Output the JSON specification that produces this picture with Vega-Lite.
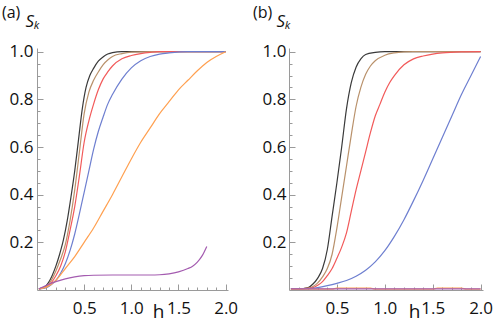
{
  "$schema": "https://vega.github.io/schema/vega-lite/v6.json",
  "background": "white",
  "padding": {"left": 2, "top": 5, "right": 0, "bottom": 0},
  "autosize": {"type": "pad"},
  "spacing": 61,
  "bounds": "flush",
  "config": {
    "view": {"stroke": null},
    "axis": {
      "grid": false,
      "domainColor": "#9a9a9a",
      "tickColor": "#9a9a9a",
      "domainWidth": 1,
      "tickWidth": 1,
      "labelFont": "Open Sans",
      "labelFontSize": 17,
      "labelColor": "#111",
      "labelOverlap": false,
      "labelFlush": false,
      "titleFont": "Open Sans",
      "titleFontWeight": "normal",
      "titleColor": "#111"
    },
    "title": {"font": "Open Sans", "fontSize": 16, "fontWeight": "normal", "color": "#111"}
  },
  "datasets": {
    "a": [
      {"c":"c1","h":0.02,"S":0.005},{"c":"c1","h":0.08,"S":0.012},{"c":"c1","h":0.12,"S":0.03},{"c":"c1","h":0.16,"S":0.06},{"c":"c1","h":0.2,"S":0.1},{"c":"c1","h":0.24,"S":0.15},{"c":"c1","h":0.28,"S":0.21},{"c":"c1","h":0.32,"S":0.29},{"c":"c1","h":0.36,"S":0.39},{"c":"c1","h":0.4,"S":0.5},{"c":"c1","h":0.44,"S":0.63},{"c":"c1","h":0.48,"S":0.76},{"c":"c1","h":0.52,"S":0.85},{"c":"c1","h":0.56,"S":0.9},{"c":"c1","h":0.6,"S":0.93},{"c":"c1","h":0.65,"S":0.96},{"c":"c1","h":0.7,"S":0.978},{"c":"c1","h":0.75,"S":0.99},{"c":"c1","h":0.8,"S":0.996},{"c":"c1","h":0.9,"S":1.0},{"c":"c1","h":1.2,"S":1.0},{"c":"c1","h":1.6,"S":1.0},{"c":"c1","h":2.0,"S":1.0},
      {"c":"c2","h":0.02,"S":0.005},{"c":"c2","h":0.1,"S":0.015},{"c":"c2","h":0.15,"S":0.04},{"c":"c2","h":0.2,"S":0.08},{"c":"c2","h":0.25,"S":0.13},{"c":"c2","h":0.3,"S":0.19},{"c":"c2","h":0.35,"S":0.29},{"c":"c2","h":0.4,"S":0.42},{"c":"c2","h":0.45,"S":0.58},{"c":"c2","h":0.5,"S":0.74},{"c":"c2","h":0.55,"S":0.83},{"c":"c2","h":0.6,"S":0.88},{"c":"c2","h":0.65,"S":0.915},{"c":"c2","h":0.7,"S":0.945},{"c":"c2","h":0.75,"S":0.965},{"c":"c2","h":0.8,"S":0.98},{"c":"c2","h":0.9,"S":0.992},{"c":"c2","h":1.0,"S":0.998},{"c":"c2","h":1.2,"S":1.0},{"c":"c2","h":1.6,"S":1.0},{"c":"c2","h":2.0,"S":1.0},
      {"c":"c3","h":0.02,"S":0.005},{"c":"c3","h":0.1,"S":0.012},{"c":"c3","h":0.15,"S":0.03},{"c":"c3","h":0.2,"S":0.06},{"c":"c3","h":0.25,"S":0.1},{"c":"c3","h":0.3,"S":0.16},{"c":"c3","h":0.35,"S":0.25},{"c":"c3","h":0.4,"S":0.35},{"c":"c3","h":0.45,"S":0.48},{"c":"c3","h":0.5,"S":0.62},{"c":"c3","h":0.55,"S":0.71},{"c":"c3","h":0.6,"S":0.78},{"c":"c3","h":0.65,"S":0.84},{"c":"c3","h":0.7,"S":0.885},{"c":"c3","h":0.75,"S":0.915},{"c":"c3","h":0.8,"S":0.94},{"c":"c3","h":0.9,"S":0.97},{"c":"c3","h":1.0,"S":0.984},{"c":"c3","h":1.1,"S":0.992},{"c":"c3","h":1.2,"S":0.997},{"c":"c3","h":1.3,"S":1.0},{"c":"c3","h":2.0,"S":1.0},
      {"c":"c4","h":0.02,"S":0.005},{"c":"c4","h":0.1,"S":0.01},{"c":"c4","h":0.15,"S":0.022},{"c":"c4","h":0.2,"S":0.04},{"c":"c4","h":0.25,"S":0.07},{"c":"c4","h":0.3,"S":0.11},{"c":"c4","h":0.35,"S":0.165},{"c":"c4","h":0.4,"S":0.235},{"c":"c4","h":0.45,"S":0.32},{"c":"c4","h":0.5,"S":0.41},{"c":"c4","h":0.55,"S":0.5},{"c":"c4","h":0.6,"S":0.59},{"c":"c4","h":0.65,"S":0.665},{"c":"c4","h":0.7,"S":0.725},{"c":"c4","h":0.75,"S":0.78},{"c":"c4","h":0.8,"S":0.82},{"c":"c4","h":0.9,"S":0.885},{"c":"c4","h":1.0,"S":0.932},{"c":"c4","h":1.1,"S":0.962},{"c":"c4","h":1.2,"S":0.98},{"c":"c4","h":1.3,"S":0.99},{"c":"c4","h":1.4,"S":0.995},{"c":"c4","h":1.6,"S":1.0},{"c":"c4","h":2.0,"S":1.0},
      {"c":"c5","h":0.02,"S":0.005},{"c":"c5","h":0.1,"S":0.012},{"c":"c5","h":0.2,"S":0.04},{"c":"c5","h":0.3,"S":0.09},{"c":"c5","h":0.4,"S":0.14},{"c":"c5","h":0.5,"S":0.2},{"c":"c5","h":0.6,"S":0.26},{"c":"c5","h":0.7,"S":0.33},{"c":"c5","h":0.8,"S":0.4},{"c":"c5","h":0.9,"S":0.475},{"c":"c5","h":1.0,"S":0.55},{"c":"c5","h":1.1,"S":0.62},{"c":"c5","h":1.2,"S":0.68},{"c":"c5","h":1.3,"S":0.74},{"c":"c5","h":1.4,"S":0.79},{"c":"c5","h":1.5,"S":0.84},{"c":"c5","h":1.6,"S":0.88},{"c":"c5","h":1.7,"S":0.92},{"c":"c5","h":1.8,"S":0.955},{"c":"c5","h":1.9,"S":0.98},{"c":"c5","h":2.0,"S":1.0},
      {"c":"c6","h":0.02,"S":0.005},{"c":"c6","h":0.1,"S":0.02},{"c":"c6","h":0.2,"S":0.035},{"c":"c6","h":0.3,"S":0.047},{"c":"c6","h":0.4,"S":0.055},{"c":"c6","h":0.5,"S":0.06},{"c":"c6","h":0.6,"S":0.062},{"c":"c6","h":0.8,"S":0.063},{"c":"c6","h":1.0,"S":0.063},{"c":"c6","h":1.2,"S":0.063},{"c":"c6","h":1.3,"S":0.064},{"c":"c6","h":1.4,"S":0.068},{"c":"c6","h":1.5,"S":0.076},{"c":"c6","h":1.6,"S":0.09},{"c":"c6","h":1.65,"S":0.1},{"c":"c6","h":1.7,"S":0.117},{"c":"c6","h":1.75,"S":0.143},{"c":"c6","h":1.8,"S":0.183}
    ],
    "b": [
      {"c":"c1","h":0.02,"S":0.005},{"c":"c1","h":0.1,"S":0.005},{"c":"c1","h":0.2,"S":0.01},{"c":"c1","h":0.25,"S":0.025},{"c":"c1","h":0.3,"S":0.05},{"c":"c1","h":0.35,"S":0.09},{"c":"c1","h":0.4,"S":0.17},{"c":"c1","h":0.45,"S":0.31},{"c":"c1","h":0.5,"S":0.45},{"c":"c1","h":0.55,"S":0.6},{"c":"c1","h":0.6,"S":0.76},{"c":"c1","h":0.65,"S":0.87},{"c":"c1","h":0.7,"S":0.935},{"c":"c1","h":0.75,"S":0.97},{"c":"c1","h":0.8,"S":0.988},{"c":"c1","h":0.9,"S":0.997},{"c":"c1","h":1.0,"S":1.0},{"c":"c1","h":1.5,"S":1.0},{"c":"c1","h":2.0,"S":1.0},
      {"c":"c2","h":0.02,"S":0.005},{"c":"c2","h":0.1,"S":0.005},{"c":"c2","h":0.2,"S":0.008},{"c":"c2","h":0.25,"S":0.015},{"c":"c2","h":0.3,"S":0.03},{"c":"c2","h":0.35,"S":0.055},{"c":"c2","h":0.4,"S":0.09},{"c":"c2","h":0.45,"S":0.15},{"c":"c2","h":0.5,"S":0.26},{"c":"c2","h":0.55,"S":0.39},{"c":"c2","h":0.6,"S":0.52},{"c":"c2","h":0.65,"S":0.65},{"c":"c2","h":0.7,"S":0.77},{"c":"c2","h":0.75,"S":0.85},{"c":"c2","h":0.8,"S":0.905},{"c":"c2","h":0.85,"S":0.94},{"c":"c2","h":0.9,"S":0.962},{"c":"c2","h":1.0,"S":0.985},{"c":"c2","h":1.1,"S":0.995},{"c":"c2","h":1.2,"S":0.999},{"c":"c2","h":1.3,"S":1.0},{"c":"c2","h":2.0,"S":1.0},
      {"c":"c3","h":0.02,"S":0.005},{"c":"c3","h":0.1,"S":0.005},{"c":"c3","h":0.2,"S":0.007},{"c":"c3","h":0.25,"S":0.01},{"c":"c3","h":0.3,"S":0.02},{"c":"c3","h":0.35,"S":0.035},{"c":"c3","h":0.4,"S":0.06},{"c":"c3","h":0.45,"S":0.09},{"c":"c3","h":0.5,"S":0.133},{"c":"c3","h":0.55,"S":0.18},{"c":"c3","h":0.6,"S":0.24},{"c":"c3","h":0.65,"S":0.33},{"c":"c3","h":0.7,"S":0.42},{"c":"c3","h":0.75,"S":0.5},{"c":"c3","h":0.8,"S":0.58},{"c":"c3","h":0.85,"S":0.66},{"c":"c3","h":0.9,"S":0.73},{"c":"c3","h":0.95,"S":0.78},{"c":"c3","h":1.0,"S":0.83},{"c":"c3","h":1.05,"S":0.87},{"c":"c3","h":1.1,"S":0.9},{"c":"c3","h":1.2,"S":0.945},{"c":"c3","h":1.3,"S":0.97},{"c":"c3","h":1.4,"S":0.982},{"c":"c3","h":1.5,"S":0.99},{"c":"c3","h":1.6,"S":0.995},{"c":"c3","h":1.8,"S":0.999},{"c":"c3","h":2.0,"S":1.0},
      {"c":"c4","h":0.02,"S":0.005},{"c":"c4","h":0.2,"S":0.006},{"c":"c4","h":0.3,"S":0.01},{"c":"c4","h":0.4,"S":0.018},{"c":"c4","h":0.5,"S":0.028},{"c":"c4","h":0.6,"S":0.04},{"c":"c4","h":0.7,"S":0.058},{"c":"c4","h":0.8,"S":0.083},{"c":"c4","h":0.9,"S":0.118},{"c":"c4","h":1.0,"S":0.165},{"c":"c4","h":1.1,"S":0.225},{"c":"c4","h":1.2,"S":0.295},{"c":"c4","h":1.3,"S":0.375},{"c":"c4","h":1.4,"S":0.46},{"c":"c4","h":1.5,"S":0.55},{"c":"c4","h":1.6,"S":0.64},{"c":"c4","h":1.7,"S":0.73},{"c":"c4","h":1.8,"S":0.82},{"c":"c4","h":1.9,"S":0.9},{"c":"c4","h":2.0,"S":0.98},
      {"c":"c5","h":0.02,"S":0.004},{"c":"c5","h":0.45,"S":0.004},{"c":"c5","h":0.5,"S":0.008},{"c":"c5","h":0.85,"S":0.008},{"c":"c5","h":0.9,"S":0.004},{"c":"c5","h":1.5,"S":0.004},{"c":"c5","h":1.55,"S":0.008},{"c":"c5","h":1.8,"S":0.008},{"c":"c5","h":1.85,"S":0.004},{"c":"c5","h":2.0,"S":0.004},
      {"c":"c6","h":0.02,"S":0.005},{"c":"c6","h":1.0,"S":0.005},{"c":"c6","h":2.0,"S":0.005}
    ]
  },
  "hconcat": [
    {
      "width": 191,
      "height": 242,
      "title": {"text": "(a)", "anchor": "start", "frame": "group", "dx": -35, "dy": 13},
      "resolve": {"axis": {"x": "independent", "y": "independent"}},
      "layer": [
        {
          "data": {"name": "a"},
          "mark": {"type": "line", "strokeWidth": 1.2, "interpolate": "monotone"},
          "encoding": {
            "x": {"field": "h", "type": "quantitative", "scale": {"domain": [0, 2.025], "nice": false, "zero": false},
              "axis": {
                "orient": "bottom",
                "values": [0.5, 1.0, 1.5, 2.0],
                "format": ".1f",
                "tickSize": -6,
                "labelPadding": 16,
                "labelDx": 6,
                "title": "h",
                "titleFontSize": 19,
                "titleX": 121,
                "titleY": 27,
                "titleBaseline": "alphabetic",
                "titleAlign": "center"
              }
            },
            "y": {"field": "S", "type": "quantitative", "scale": {"domain": [0, 1.0155], "nice": false},
              "axis": {
                "orient": "left",
                "values": [0.2, 0.4, 0.6, 0.8, 1.0],
                "format": ".1f",
                "tickSize": -6,
                "labelPadding": 10,
                "title": "Sₖ",
                "titleAngle": 0,
                "titleFontSize": 17,
                "titleFontStyle": "italic",
                "titleX": -12,
                "titleY": -22,
                "titleAlign": "left",
                "titleBaseline": "alphabetic"
              }
            },
            "color": {"field": "c", "type": "nominal", "legend": null,
              "scale": {"domain": ["c1","c2","c3","c4","c5","c6"], "range": ["#3a3a3a","#b9916b","#f25a5a","#6e7fd0","#ffa050","#a45cb0"]}}
          }
        },
        {
          "mark": {"type": "rule", "strokeDash": [2, 2], "color": "#777", "strokeWidth": 1},
          "encoding": {
            "x": {"datum": 0.5, "type": "quantitative",
              "axis": {"orient": "bottom", "values": [0.1,0.2,0.3,0.4,0.6,0.7,0.8,0.9,1.1,1.2,1.3,1.4,1.6,1.7,1.8,1.9], "labels": false, "domain": false, "tickSize": -3, "title": null}},
            "y": {"datum": 0, "type": "quantitative",
              "axis": {"orient": "left", "values": [0.05,0.1,0.15,0.25,0.3,0.35,0.45,0.5,0.55,0.65,0.7,0.75,0.85,0.9,0.95], "labels": false, "domain": false, "tickSize": -3, "title": null}},
            "y2": {"datum": 1.075}
          }
        }
      ]
    },
    {
      "width": 194,
      "height": 242,
      "title": {"text": "(b)", "anchor": "start", "frame": "group", "dx": -36, "dy": 13},
      "resolve": {"axis": {"x": "independent", "y": "independent"}},
      "layer": [
        {
          "data": {"name": "b"},
          "mark": {"type": "line", "strokeWidth": 1.2, "interpolate": "monotone"},
          "encoding": {
            "x": {"field": "h", "type": "quantitative", "scale": {"domain": [0, 2.025], "nice": false, "zero": false},
              "axis": {
                "orient": "bottom",
                "values": [0.5, 1.0, 1.5, 2.0],
                "format": ".1f",
                "tickSize": -6,
                "labelPadding": 16,
                "labelDx": 6,
                "title": "h",
                "titleFontSize": 19,
                "titleX": 125,
                "titleY": 27,
                "titleBaseline": "alphabetic",
                "titleAlign": "center"
              }
            },
            "y": {"field": "S", "type": "quantitative", "scale": {"domain": [0, 1.0155], "nice": false},
              "axis": {
                "orient": "left",
                "values": [0.2, 0.4, 0.6, 0.8, 1.0],
                "format": ".1f",
                "tickSize": -6,
                "labelPadding": 9,
                "title": "Sₖ",
                "titleAngle": 0,
                "titleFontSize": 17,
                "titleFontStyle": "italic",
                "titleX": -13,
                "titleY": -22,
                "titleAlign": "left",
                "titleBaseline": "alphabetic"
              }
            },
            "color": {"field": "c", "type": "nominal", "legend": null,
              "scale": {"domain": ["c1","c2","c3","c4","c5","c6"], "range": ["#3a3a3a","#b9916b","#f25a5a","#6e7fd0","#ffa050","#a45cb0"]}}
          }
        },
        {
          "mark": {"type": "rule", "strokeDash": [2, 2], "color": "#777", "strokeWidth": 1},
          "encoding": {
            "x": {"datum": 0.5, "type": "quantitative",
              "axis": {"orient": "bottom", "values": [0.1,0.2,0.3,0.4,0.6,0.7,0.8,0.9,1.1,1.2,1.3,1.4,1.6,1.7,1.8,1.9], "labels": false, "domain": false, "tickSize": -3, "title": null}},
            "y": {"datum": 0, "type": "quantitative",
              "axis": {"orient": "left", "values": [0.05,0.1,0.15,0.25,0.3,0.35,0.45,0.5,0.55,0.65,0.7,0.75,0.85,0.9,0.95], "labels": false, "domain": false, "tickSize": -3, "title": null}},
            "y2": {"datum": 1.075}
          }
        }
      ]
    }
  ]
}
